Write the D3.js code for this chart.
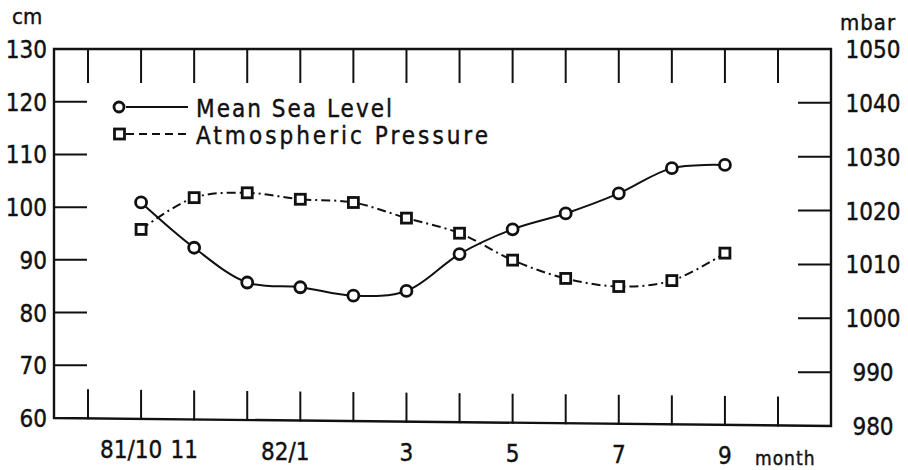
<!DOCTYPE html>
<html>
<head>
<meta charset="utf-8">
<script src="https://cdn.jsdelivr.net/npm/d3@7"></script>
<style>
  body { margin: 0; background: #fff; }
  svg text { font-family: "DejaVu Sans Condensed", "DejaVu Sans", sans-serif; font-stretch: condensed; fill: #111; stroke: #111; stroke-width: 0.4px; }
</style>
</head>
<body>
<script>
// months from 81/10 (index 0) to 82/9 (index 11)
const months = [0, 1, 2, 3, 4, 5, 6, 7, 8, 9, 10, 11];
const seaLevel = [100.9, 92.3, 85.7, 84.8, 83.2, 84.1, 91.1, 95.8, 98.8, 102.6, 107.4, 108.0];
const pressure = [1016.5, 1022.4, 1023.3, 1022.1, 1021.5, 1018.6, 1015.8, 1010.8, 1007.4, 1005.9, 1007.0, 1012.1];

const monthTicks = [-1, 0, 1, 2, 3, 4, 5, 6, 7, 8, 9, 10, 11, 12];
const monthLabels = [
  { m: 0, t: "81/10" },
  { m: 1, t: "11" },
  { m: 3, t: "82/1" },
  { m: 5, t: "3" },
  { m: 7, t: "5" },
  { m: 9, t: "7" },
  { m: 11, t: "9" }
];
const cmTicks = [60, 70, 80, 90, 100, 110, 120, 130];
const mbarTicks = [980, 990, 1000, 1010, 1020, 1030, 1040, 1050];

const legendItems = [
  { name: "Mean Sea Level", shape: "circle" },
  { name: "Atmospheric Pressure", shape: "square" }
];

(function() {
  let svg = '';

  window.onload = function() {
    svg = d3.select('body')
      .append('svg')
      .attr('width', 908)
      .attr('height', 470);

    let funcs = drawAxes();
    plotLines(funcs);
    makeLegend();
    makeLabels();
  };

  function drawAxes() {
    // x: month index
    let x = d3.scaleLinear().domain([-1, 12]).range([88, 778]);
    // left (cm) and right (mbar) scales, the scan is slightly taller on the right
    let yL = d3.scaleLinear().domain([60, 130]).range([418, 49]);
    let yR = d3.scaleLinear().domain([980, 1050]).range([426, 49]);

    let left = 54, right = 831;
    // bottom edge of the frame, leaning down to the right
    let bottom = function(px) {
      return yL(60) + (px - left) / (right - left) * (yR(980) - yL(60));
    };

    let g = svg.append('g')
      .attr('stroke', '#111')
      .attr('fill', 'none')
      .attr('stroke-linecap', 'square');

    g.append('path')
      .attr('stroke-width', 2.4)
      .attr('d', d3.line()([[left, yL(130)], [right, yR(1050)], [right, yR(980)], [left, yL(60)], [left, yL(130)]]));

    // top ticks
    g.selectAll('.ttick')
      .data(monthTicks)
      .enter()
      .append('line')
      .attr('stroke-width', 2)
      .attr('x1', (d) => x(d)).attr('x2', (d) => x(d))
      .attr('y1', yL(130)).attr('y2', yL(130) + 33);

    // bottom ticks
    g.selectAll('.btick')
      .data(monthTicks)
      .enter()
      .append('line')
      .attr('stroke-width', 2)
      .attr('x1', (d) => x(d)).attr('x2', (d) => x(d))
      .attr('y1', (d) => bottom(x(d))).attr('y2', (d) => bottom(x(d)) - 28);

    // left ticks
    g.selectAll('.ltick')
      .data(cmTicks.slice(1, -1))
      .enter()
      .append('line')
      .attr('stroke-width', 2)
      .attr('x1', left).attr('x2', left + 32)
      .attr('y1', (d) => yL(d)).attr('y2', (d) => yL(d));

    // right ticks
    g.selectAll('.rtick')
      .data(mbarTicks.slice(1, -1))
      .enter()
      .append('line')
      .attr('stroke-width', 2)
      .attr('x1', right - 32).attr('x2', right)
      .attr('y1', (d) => yR(d)).attr('y2', (d) => yR(d));

    // tick labels
    svg.selectAll('.llabel')
      .data(cmTicks)
      .enter()
      .append('text')
      .attr('x', 47)
      .attr('y', (d) => yL(d) + 9)
      .attr('text-anchor', 'end')
      .style('font-size', '24px')
      .text((d) => d);

    svg.selectAll('.rlabel')
      .data(mbarTicks)
      .enter()
      .append('text')
      .attr('x', 873)
      .attr('y', (d) => yR(d) + 9)
      .attr('text-anchor', 'middle')
      .style('font-size', '24px')
      .text((d) => d);

    // the first labels sit a little left of their ticks
    let shift = { "81/10": -10, "11": -10, "82/1": -15 };
    svg.selectAll('.mlabel')
      .data(monthLabels)
      .enter()
      .append('text')
      .attr('x', (d) => x(d.m) + (shift[d.t] || 0))
      .attr('y', (d) => bottom(x(d.m)) + 39)
      .attr('text-anchor', 'middle')
      .style('font-size', '24px')
      .text((d) => d.t);

    return { x: x, yL: yL, yR: yR };
  }

  function plotLines(funcs) {
    let x = funcs.x;
    let slData = months.map((m, i) => [x(m), funcs.yL(seaLevel[i])]);
    let prData = months.map((m, i) => [x(m), funcs.yR(pressure[i])]);

    let line = d3.line().curve(d3.curveCatmullRom.alpha(0.5));

    svg.append('path')
      .attr('d', line(prData))
      .attr('fill', 'none')
      .attr('stroke', '#111')
      .attr('stroke-width', 2)
      .attr('stroke-dasharray', '9,4,2,4');

    svg.append('path')
      .attr('d', line(slData))
      .attr('fill', 'none')
      .attr('stroke', '#111')
      .attr('stroke-width', 2);

    svg.selectAll('.sq')
      .data(prData)
      .enter()
      .append('rect')
      .attr('x', (d) => d[0] - 5)
      .attr('y', (d) => d[1] - 5)
      .attr('width', 10)
      .attr('height', 10)
      .attr('fill', '#fff')
      .attr('stroke', '#111')
      .attr('stroke-width', 2.8);

    svg.selectAll('.dot')
      .data(slData)
      .enter()
      .append('circle')
      .attr('cx', (d) => d[0])
      .attr('cy', (d) => d[1])
      .attr('r', 5.5)
      .attr('fill', '#fff')
      .attr('stroke', '#111')
      .attr('stroke-width', 2.8);
  }

  function makeLegend() {
    let leg = svg.append('g');
    let widths = [196, 292];
    legendItems.forEach((d, i) => {
      let cy = 107 + i * 27;
      leg.append('line')
        .attr('x1', 126).attr('x2', 188)
        .attr('y1', cy).attr('y2', cy)
        .attr('stroke', '#111')
        .attr('stroke-width', 2)
        .attr('stroke-dasharray', d.shape == 'square' ? '8,5' : null);
      if (d.shape == 'circle') {
        leg.append('circle')
          .attr('cx', 119).attr('cy', cy).attr('r', 5)
          .attr('fill', '#fff').attr('stroke', '#111').attr('stroke-width', 2.8);
      } else {
        leg.append('rect')
          .attr('x', 114.5).attr('y', cy - 5).attr('width', 10).attr('height', 10)
          .attr('fill', '#fff').attr('stroke', '#111').attr('stroke-width', 2.8);
      }
      leg.append('text')
        .attr('x', 196)
        .attr('y', cy + 10)
        .attr('textLength', widths[i])
        .attr('lengthAdjust', 'spacing')
        .style('font-size', '24px')
        .text(d.name);
    });
  }

  function makeLabels() {
    svg.append('text')
      .attr('x', 12).attr('y', 24)
      .style('font-size', '22px')
      .text('cm');

    svg.append('text')
      .attr('x', 840).attr('y', 30)
      .style('font-size', '22px')
      .style('letter-spacing', '1px')
      .text('mbar');

    svg.append('text')
      .attr('x', 755).attr('y', 465)
      .style('font-size', '19px')
      .style('letter-spacing', '1px')
      .text('month');
  }
})();
</script>
</body>
</html>
